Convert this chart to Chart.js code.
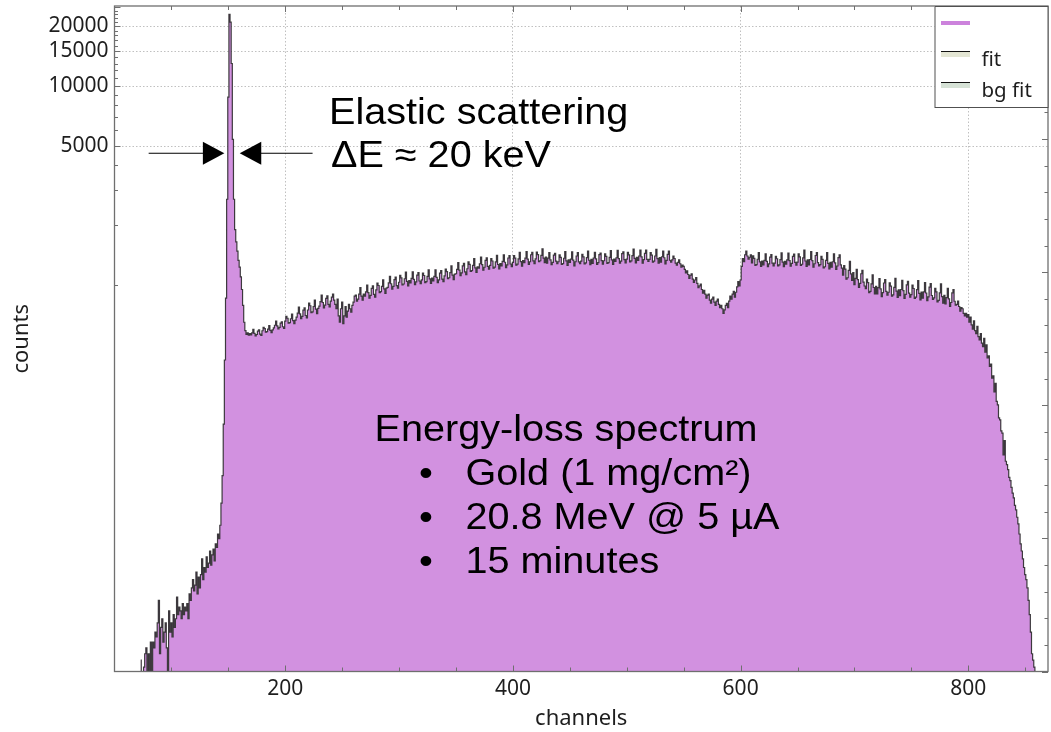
<!DOCTYPE html>
<html>
<head>
<meta charset="utf-8">
<title>Energy-loss spectrum</title>
<script src="https://cdn.jsdelivr.net/npm/chart.js@4.4.1/dist/chart.umd.min.js"></script>
<style>
  html, body { margin: 0; padding: 0; background: #fff; }
  canvas { display: block; }
</style>
</head>
<body>
<canvas id="spectrum" width="1051" height="732"></canvas>
<script>
// counts per channel, one entry per channel starting at firstChannel
// (0 = nothing recorded, left out on the log axis)
var firstChannel = 50;

// 50 - 139
var lowTail = [
    0, 0, 0, 0, 0, 0, 0, 0, 0, 0,
    0, 0, 0, 0, 0, 0, 0, 0, 0, 0,
    0, 0, 0, 13, 1, 11, 12, 14, 15, 1,
    14, 1, 16, 1, 16, 15, 18, 17, 20, 26,
    14, 19, 21, 16, 18, 20, 15, 1, 23, 18,
    20, 17, 22, 19, 21, 27, 22, 24, 23, 21,
    25, 22, 24, 23, 25, 21, 28, 26, 30, 33,
    29, 31, 36, 28, 34, 30, 35, 42, 33, 38,
    36, 43, 38, 40, 46, 39, 44, 47, 41, 50
];

// 140 - 169
var elasticPeak = [
    48, 56, 53, 62, 80, 110, 200, 420, 860, 2700,
    8800, 23000, 21000, 13000, 5400, 2700, 1900, 1650, 1480, 1330,
    1230, 1100, 950, 790, 650, 590, 565, 575, 560, 570
];

// 170 - 799
var continuum = [
    561, 575, 598, 572, 555, 564, 587, 595, 566, 558,
    589, 613, 604, 580, 583, 601, 625, 592, 577, 595,
    609, 628, 658, 624, 602, 613, 643, 654, 617, 605,
    658, 696, 681, 644, 648, 677, 714, 663, 639, 667,
    690, 722, 774, 716, 677, 696, 748, 767, 703, 683,
    749, 811, 787, 726, 733, 780, 841, 757, 718, 764,
    784, 825, 891, 817, 767, 792, 858, 883, 800, 776,
    830, 870, 900, 840, 800, 760, 850, 700, 650, 760,
    820, 640, 700, 780, 690, 740, 800, 760, 730, 790,
    820, 880, 890, 830, 850, 900, 970, 880, 840, 900,
    879, 925, 999, 916, 860, 888, 962, 990, 897, 870,
    946, 1024, 995, 917, 926, 985, 1063, 956, 907, 965,
    974, 1025, 1107, 1015, 953, 984, 1066, 1097, 994, 964,
    1033, 1118, 1086, 1001, 1012, 1076, 1161, 1044, 990, 1054,
    1026, 1080, 1166, 1069, 1004, 1037, 1123, 1156, 1048, 1015,
    1062, 1150, 1117, 1029, 1040, 1106, 1194, 1073, 1018, 1084,
    1050, 1105, 1193, 1094, 1028, 1061, 1149, 1182, 1072, 1039,
    1111, 1202, 1168, 1076, 1088, 1156, 1248, 1122, 1065, 1134,
    1140, 1200, 1296, 1188, 1116, 1152, 1248, 1284, 1164, 1128,
    1208, 1307, 1270, 1170, 1183, 1257, 1357, 1220, 1158, 1233,
    1216, 1280, 1382, 1267, 1190, 1229, 1331, 1370, 1242, 1203,
    1256, 1360, 1321, 1217, 1230, 1308, 1412, 1269, 1204, 1282,
    1249, 1315, 1420, 1302, 1223, 1262, 1368, 1407, 1276, 1236,
    1300, 1407, 1367, 1260, 1273, 1353, 1461, 1313, 1246, 1327,
    1297, 1365, 1474, 1351, 1269, 1310, 1420, 1461, 1324, 1283,
    1353, 1465, 1423, 1311, 1325, 1409, 1521, 1367, 1297, 1381,
    1290, 1365, 1455, 1338, 1268, 1300, 1415, 1445, 1320, 1280,
    1310, 1418, 1378, 1270, 1283, 1364, 1472, 1324, 1257, 1337,
    1300, 1350, 1470, 1335, 1250, 1310, 1400, 1458, 1307, 1280,
    1320, 1428, 1387, 1278, 1292, 1374, 1482, 1333, 1265, 1347,
    1286, 1368, 1462, 1354, 1271, 1298, 1423, 1448, 1327, 1275,
    1325, 1434, 1393, 1284, 1297, 1379, 1489, 1339, 1271, 1352,
    1316, 1372, 1494, 1359, 1288, 1318, 1438, 1469, 1343, 1291,
    1350, 1461, 1419, 1308, 1322, 1405, 1517, 1363, 1294, 1378,
    1330, 1400, 1498, 1386, 1290, 1343, 1442, 1498, 1347, 1316,
    1345, 1456, 1414, 1303, 1318, 1400, 1512, 1358, 1290, 1373,
    1305, 1388, 1483, 1372, 1278, 1331, 1428, 1482, 1333, 1302,
    1340, 1400, 1360, 1290, 1260, 1300, 1340, 1280, 1230, 1260,
    1240, 1200, 1150, 1180, 1130, 1080, 1120, 1140, 1070, 1030,
    1060, 1090, 1020, 970, 990, 1010, 950, 910, 940, 900,
    860, 890, 900, 840, 810, 850, 870, 820, 790, 830,
    850, 800, 770, 790, 760, 720, 750, 790, 810, 770,
    830, 880, 850, 900, 930, 870, 920, 980, 1040, 990,
    1060, 1240, 1360, 1310, 1420, 1480, 1400, 1350, 1380, 1420,
    1294, 1402, 1361, 1255, 1268, 1348, 1454, 1308, 1241, 1321,
    1263, 1330, 1436, 1316, 1236, 1277, 1382, 1423, 1289, 1250,
    1289, 1396, 1356, 1250, 1263, 1343, 1450, 1303, 1236, 1316,
    1272, 1339, 1447, 1326, 1245, 1285, 1393, 1433, 1299, 1259,
    1305, 1435, 1386, 1256, 1272, 1370, 1500, 1321, 1240, 1337,
    1263, 1344, 1473, 1328, 1231, 1280, 1408, 1457, 1296, 1247,
    1268, 1394, 1347, 1220, 1236, 1331, 1457, 1284, 1205, 1300,
    1231, 1310, 1436, 1294, 1200, 1247, 1373, 1420, 1263, 1216,
    1121, 1252, 1203, 1072, 1088, 1186, 1317, 1137, 1055, 1154,
    1004, 1080, 1201, 1065, 974, 1020, 1140, 1186, 1035, 989,
    958, 1070, 1028, 916, 930, 1014, 1126, 972, 902, 986,
    902, 970, 1079, 956, 875, 916, 1024, 1065, 929, 889,
    920, 1027, 987, 879, 893, 973, 1081, 933, 866, 947,
    884, 950, 1056, 937, 857, 897, 1003, 1043, 910, 870,
    896, 1000, 961, 856, 870, 948, 1053, 909, 843, 922,
    860, 925, 1029, 912, 834, 873, 977, 1016, 886, 847,
    862, 963, 925, 824, 837, 913, 1013, 875, 812, 887,
    804, 865, 962, 853, 780, 817, 913, 950, 829, 792,
    800, 830, 780, 740, 770, 760, 720, 700, 720, 690
];

// 800 - 870
var highEdge = [
    710, 650, 690, 630, 600, 660, 590, 570, 620, 550,
    530, 570, 510, 490, 540, 460, 500, 430, 440, 390,
    400, 340, 350, 290, 320, 260, 250, 215, 210, 185,
    180, 140, 165, 130, 125, 118, 108, 104, 96, 90,
    85, 78, 74, 68, 63, 56, 50, 46, 42, 38,
    35, 33, 30, 26, 22, 18, 14, 13, 12, 1,
    0, 0, 0, 0, 0, 0, 0, 0, 0, 0, 0
];

var xLabels = [200, 400, 600, 800];
var yLabels = [5000, 10000, 15000, 20000];
var legendLabels = ['', 'fit', 'bg fit'];

var fillColor = '#d291e0';
var edgeColor = 'rgba(38,38,38,0.88)';
var gridColor = 'rgba(165,165,165,0.7)';
var frameColor = '#6f6f6f';
var textColor = '#1e1e1e';

var counts = lowTail.concat(elasticPeak, continuum, highEdge);
var points = counts.map(function (c, i) {
    return { x: firstChannel + i, y: c };
});

// minor tick positions for the frame
var xTickMarks = [];
for (var c = 100; c <= 850; c += 50) xTickMarks.push(c);
var yTickMarks = [];
for (var v = 1000; v <= 25000; v += 1000) yTickMarks.push(v);

// wide annotation lettering
function wideText(ctx, str, x, y) {
    ctx.save();
    ctx.translate(x, y);
    ctx.scale(1.1, 1);
    ctx.fillText(str, 0, 0);
    ctx.restore();
}

function arrowHead(ctx, tipX, y, dir) {
    ctx.beginPath();
    ctx.moveTo(tipX, y);
    ctx.lineTo(tipX - dir * 21.5, y - 11.5);
    ctx.lineTo(tipX - dir * 21.5, y + 11.5);
    ctx.closePath();
    ctx.fill();
}

var decorations = {
    id: 'decorations',
    afterDraw: function (chart) {
        var ctx = chart.ctx;
        var area = chart.chartArea;
        var xs = chart.scales.x;
        var ys = chart.scales.y;
        ctx.save();

        // tick marks pointing into the plot
        ctx.strokeStyle = frameColor;
        ctx.lineWidth = 1;
        ctx.beginPath();
        xTickMarks.forEach(function (c) {
            var px = Math.round(xs.getPixelForValue(c)) + 0.5;
            var len = c % 200 === 0 ? 6 : 4;
            ctx.moveTo(px, area.bottom);
            ctx.lineTo(px, area.bottom - len);
            ctx.moveTo(px, area.top);
            ctx.lineTo(px, area.top + len);
        });
        yTickMarks.forEach(function (v) {
            var py = Math.round(ys.getPixelForValue(v)) + 0.5;
            var len = v % 5000 === 0 ? 6 : 3.5;
            ctx.moveTo(area.left, py);
            ctx.lineTo(area.left + len, py);
        });
        for (var k = 0; k <= 25; k++) {
            var py2 = Math.round(area.bottom - k * area.height / 25) + 0.5;
            var len2 = k % 5 === 0 ? 6 : 3.5;
            ctx.moveTo(area.right, py2);
            ctx.lineTo(area.right - len2, py2);
        }
        ctx.stroke();

        // frame
        ctx.lineWidth = 1.3;
        ctx.strokeRect(area.left, area.top, area.width, area.height);

        // arrows around the elastic peak
        var ay = ys.getPixelForValue(4600);
        var leftTip = xs.getPixelForValue(146.5);
        var rightTip = xs.getPixelForValue(160);
        ctx.strokeStyle = '#000';
        ctx.fillStyle = '#000';
        ctx.lineWidth = 1.2;
        ctx.beginPath();
        ctx.moveTo(xs.getPixelForValue(80), ay);
        ctx.lineTo(leftTip - 18, ay);
        ctx.moveTo(rightTip + 18, ay);
        ctx.lineTo(xs.getPixelForValue(224), ay);
        ctx.stroke();
        arrowHead(ctx, leftTip, ay, 1);
        arrowHead(ctx, rightTip, ay, -1);

        // text annotations
        ctx.fillStyle = '#000';
        ctx.textBaseline = 'alphabetic';
        ctx.textAlign = 'left';
        ctx.font = '36px "Liberation Sans", Arial, sans-serif';
        wideText(ctx, 'Elastic scattering', 329, 124);
        wideText(ctx, 'ΔE ≈ 20 keV', 331, 167);
        wideText(ctx, 'Energy-loss spectrum', 374.5, 441);
        var bullets = ['Gold (1 mg/cm²)', '20.8 MeV @ 5 µA', '15 minutes'];
        var baselines = [485, 529, 573];
        bullets.forEach(function (line, i) {
            wideText(ctx, '•', 419, baselines[i]);
            wideText(ctx, line, 465.5, baselines[i]);
        });

        // legend box in the upper right corner
        var lx = area.right - 113.5;
        var ly = area.top;
        ctx.fillStyle = '#fff';
        ctx.fillRect(lx, ly, 113.5, 101.5);
        ctx.strokeStyle = '#505050';
        ctx.lineWidth = 1;
        ctx.strokeRect(lx + 0.5, ly + 0.5, 113, 101);

        ctx.fillStyle = '#cc82dc';
        ctx.fillRect(lx + 6.5, ly + 15, 29, 4);

        ctx.fillStyle = '#e4e6d4';
        ctx.fillRect(lx + 6.5, ly + 46, 29, 5);
        ctx.fillStyle = '#d6e2d6';
        ctx.fillRect(lx + 6.5, ly + 77, 29, 5);
        ctx.strokeStyle = '#111';
        ctx.beginPath();
        ctx.moveTo(lx + 6.5, ly + 45.5);
        ctx.lineTo(lx + 35.5, ly + 45.5);
        ctx.moveTo(lx + 6.5, ly + 76.5);
        ctx.lineTo(lx + 35.5, ly + 76.5);
        ctx.stroke();

        ctx.fillStyle = textColor;
        ctx.font = '20.5px "Noto Sans", sans-serif';
        ctx.fillText(legendLabels[1], lx + 47, ly + 60);
        ctx.fillText(legendLabels[2], lx + 47, ly + 91);

        ctx.restore();
    }
};

var ctx = document.getElementById('spectrum').getContext('2d');

var config = {
    type: 'line',
    data: {
        datasets: [{
            label: legendLabels[0],
            data: points,
            stepped: 'middle',
            fill: 'start',
            backgroundColor: fillColor,
            borderColor: edgeColor,
            borderWidth: 1.2,
            pointRadius: 0
        }]
    },
    options: {
        responsive: false,
        animation: false,
        devicePixelRatio: 1,
        layout: {
            padding: { left: 0, top: 6, right: 3, bottom: 0 }
        },
        plugins: {
            legend: { display: false },
            tooltip: { enabled: false }
        },
        scales: {
            x: {
                type: 'linear',
                min: 50,
                max: 870,
                grid: {
                    drawTicks: false,
                    color: function (c) {
                        return c.tick && xLabels.indexOf(c.tick.value) >= 0 ? gridColor : 'transparent';
                    }
                },
                border: { display: false, dash: [1.5, 2] },
                ticks: {
                    stepSize: 50,
                    autoSkip: false,
                    maxRotation: 0,
                    padding: 5,
                    color: textColor,
                    font: { family: 'Noto Sans', size: 21 },
                    callback: function (v) {
                        return xLabels.indexOf(v) >= 0 ? String(v) : '';
                    }
                },
                title: {
                    display: true,
                    text: 'channels',
                    color: textColor,
                    font: { family: 'Noto Sans', size: 22 },
                    padding: { top: 0, bottom: 0 }
                },
                afterFit: function (scale) {
                    scale.height = 60.5;
                    scale.paddingLeft = 0;
                    scale.paddingRight = 0;
                }
            },
            y: {
                type: 'logarithmic',
                min: 11.4,
                max: 25300,
                bounds: 'data',
                afterBuildTicks: function (scale) {
                    scale.ticks = yLabels.map(function (v) { return { value: v }; });
                },
                grid: { drawTicks: false, color: gridColor },
                border: { display: false, dash: [1.5, 2] },
                ticks: {
                    padding: 6,
                    color: textColor,
                    font: { family: 'Noto Sans', size: 21 },
                    callback: function (v) { return String(v); }
                },
                title: {
                    display: true,
                    text: 'counts',
                    color: textColor,
                    font: { family: 'Noto Sans', size: 22 },
                    padding: { top: 9, bottom: 0 }
                },
                afterFit: function (scale) {
                    scale.width = 114.5;
                    scale.paddingTop = 0;
                    scale.paddingBottom = 0;
                }
            }
        }
    },
    plugins: [decorations]
};

var spectrumChart = new Chart(ctx, config);
</script>
</body>
</html>
